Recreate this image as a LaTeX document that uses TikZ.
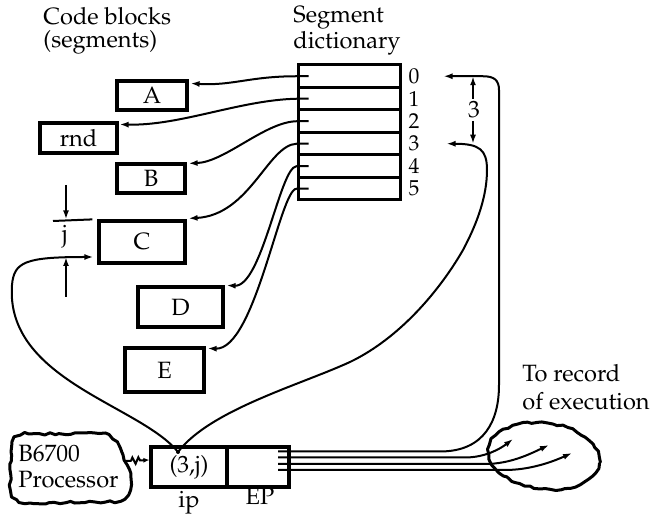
\documentclass[tikz,border=0pt]{standalone}
\usepackage[T1]{fontenc}
\usepackage{mathpazo}
\usetikzlibrary{arrows.meta,calc,decorations.pathmorphing}
\newcommand\lblfont{\fontsize{11.8}{13}\selectfont}
\newcommand\digfont{\fontsize{10.8}{12}\selectfont}
\begin{document}
\pgfmathsetseed{11}
\begin{tikzpicture}[x=0.5pt, y=-0.5pt,
  box/.style={draw, line width=1.6pt, inner sep=0pt, font=\lblfont},
  rowbox/.style={draw, line width=1.5pt, inner sep=0pt, minimum width=51pt, minimum height=11.25pt},
  lab/.style={inner sep=0pt, font=\lblfont},
  dig/.style={inner sep=0pt, font=\digfont},
  conn/.style={line width=1pt, -{Latex[length=4.5pt,width=3pt]}},
  plain/.style={line width=1pt},
  wobble/.style={line width=1.5pt, line join=round, decorate, decoration={random steps, segment length=2.5pt, amplitude=0.6pt}}]
\useasboundingbox (0,0) rectangle (655,517);

% titles
\node[lab, anchor=base west] (cb1) at (43,25) {Code blocks};
\node[lab, anchor=base west] (cb2) at (43,48) {(segments)};
\node[lab, anchor=base west] (sd1) at (293,23) {Segment};
\node[lab, anchor=base west] (sd2) at (293,49) {dictionary};
\node[lab, anchor=base west] (tr1) at (522,382) {To record};
\node[lab, anchor=base west] (tr2) at (522,410) {of execution};

% code blocks
\node[box, minimum width=35pt, minimum height=14.5pt] (A) at (152,95.5) {A};
\node[box, minimum width=38.5pt, minimum height=15pt] (rnd) at (78.5,138) {rnd};
\node[box, minimum width=34pt, minimum height=14.5pt] (B) at (151,178.5) {B};
\node[box, minimum width=43pt, minimum height=21pt] (C) at (142,242) {C};
\node[box, minimum width=42.5pt, minimum height=20pt] (D) at (180.5,307) {D};
\node[box, minimum width=39.5pt, minimum height=22pt] (E) at (164.5,370) {E};

% segment dictionary
\foreach \i in {0,...,5} {
  \node[rowbox] (d\i) at (349,{76.25+22.5*\i}) {};
  \node[dig] (n\i) at (414,{76.25+22.5*\i}) {\i};
}

% dictionary -> code blocks
\draw[conn] ($(d0.west)+(12,0)$) -- (d0.west) .. controls (250,76.25) and (232,86) .. ($(A.north east)+(2,4)$);
\draw[conn] ($(d1.west)+(12,0)$) -- (d1.west) .. controls (240,100) and (180,126) .. ($(rnd.north east)+(1,3)$);
\draw[conn] ($(d2.west)+(12,0)$) -- (d2.west) .. controls (265,122) and (225,162) .. ($(B.north east)+(2,1)$);
\draw[conn] ($(d3.west)+(12,0)$) -- (d3.west) .. controls (268,145) and (250,215) .. ($(C.north east)+(2,-1)$);
\draw[conn] ($(d4.west)+(12,0)$) -- (d4.west) .. controls (280,167) and (262,287) .. ($(D.north east)+(2,0)$);
\draw[conn] ($(d5.west)+(12,0)$) -- (d5.west) .. controls (280,189) and (255,350) .. ($(E.north east)+(2,2)$);

% j dimension
\coordinate (jl) at (53,221);
\coordinate (jt) at (66,185);
\coordinate (jb) at (66,297);
\coordinate (cend) at ($(C.west)+(-4,15)$);
\draw[plain] (jl) -- ($(C.north west)+(-5,0)$);
\draw[conn] (jt) -- (jt |- C.north);
\draw[conn] (jb) -- (jb |- cend);
\node[lab] (jlab) at (65,237) {j};

% registers
\node[box, minimum width=38pt, minimum height=20pt] (ip) at (189,467) {(3,j)};
\node[box, minimum width=31pt, minimum height=20pt] (EP) at (258,467) {};
\node[lab, anchor=base] (iplab) at (189,508) {ip};
\node[lab, anchor=base] (eplab) at (260,505) {EP};

% curves from ip
\coordinate (ipt) at (178,452);
\coordinate (r0) at ($(d0.east)+(42,0)$);
\coordinate (r3) at ($(d3.east)+(45,0)$);
\draw[conn] (ipt) .. controls (140,405) and (5,380) .. (12,285) .. controls (14,262) and (25,257) .. (cend);
\draw[conn] (ipt) .. controls (210,410) and (300,385) .. (350,362) .. controls (400,338) and (440,290) .. (463,250) .. controls (478,222) and (487,195) .. (487,170) .. controls (487,150) and (480,143.75) .. (r3);
\fill (ipt) circle (2);

% 3 dimension
\coordinate (k3a) at (473,99);
\coordinate (k3b) at (473,121);
\draw[conn] (k3a) -- (k3a |- r0);
\draw[conn] (k3b) -- (k3b |- r3);
\node[lab] (l3) at (474,110) {3};

% EP lines
\coordinate (e1) at (278,451.5);
\coordinate (e2) at (278,457.5);
\coordinate (e3) at (278,464);
\coordinate (e4) at (278,470);
\coordinate (a2) at (513,439);
\coordinate (a3) at (549,445);
\coordinate (a4) at (572,453);
\draw[conn] (e1) -- (440,451.5) .. controls (485,451.5) and (499,420) .. (499,385) -- (499,90) .. controls (499,80) and (494,76.25) .. (483,76.25) -- (r0);
\draw[conn] (e2) -- (465,457.5) .. controls (485,457.5) and (500,449) .. (a2);
\draw[conn] (e3) -- (485,464) .. controls (510,464) and (530,454) .. (a3);
\draw[conn] (e4) -- (505,470) .. controls (530,470) and (552,462) .. (a4);

% record of execution cloud
\draw[wobble] (544,456) ellipse [x radius=56, y radius=33, rotate=-7];

% processor cloud
\node[lab, anchor=base west] (pr1) at (18,462) {B6700};
\node[lab, anchor=base west] (pr2) at (18,488) {Processor};
\draw[wobble] (10,470) -- (11,452) .. controls (10,438) and (18,433) .. (35,434) -- (95,433) .. controls (112,433) and (118,442) .. (123,455) .. controls (128,466) and (133,478) .. (130,490) .. controls (128,499) and (118,502) .. (105,502) -- (30,503) .. controls (15,503) and (10,496) .. (10,485) -- cycle;
\coordinate (cpr) at (125,461);
\draw[line width=1pt, decorate, decoration={zigzag, amplitude=1.6pt, segment length=3pt, pre length=3pt, post length=4pt}, -{Latex[length=3pt,width=2.5pt]}] (cpr) -- ($(ip.west)+(0,-7)$);
\end{tikzpicture}
\end{document}
